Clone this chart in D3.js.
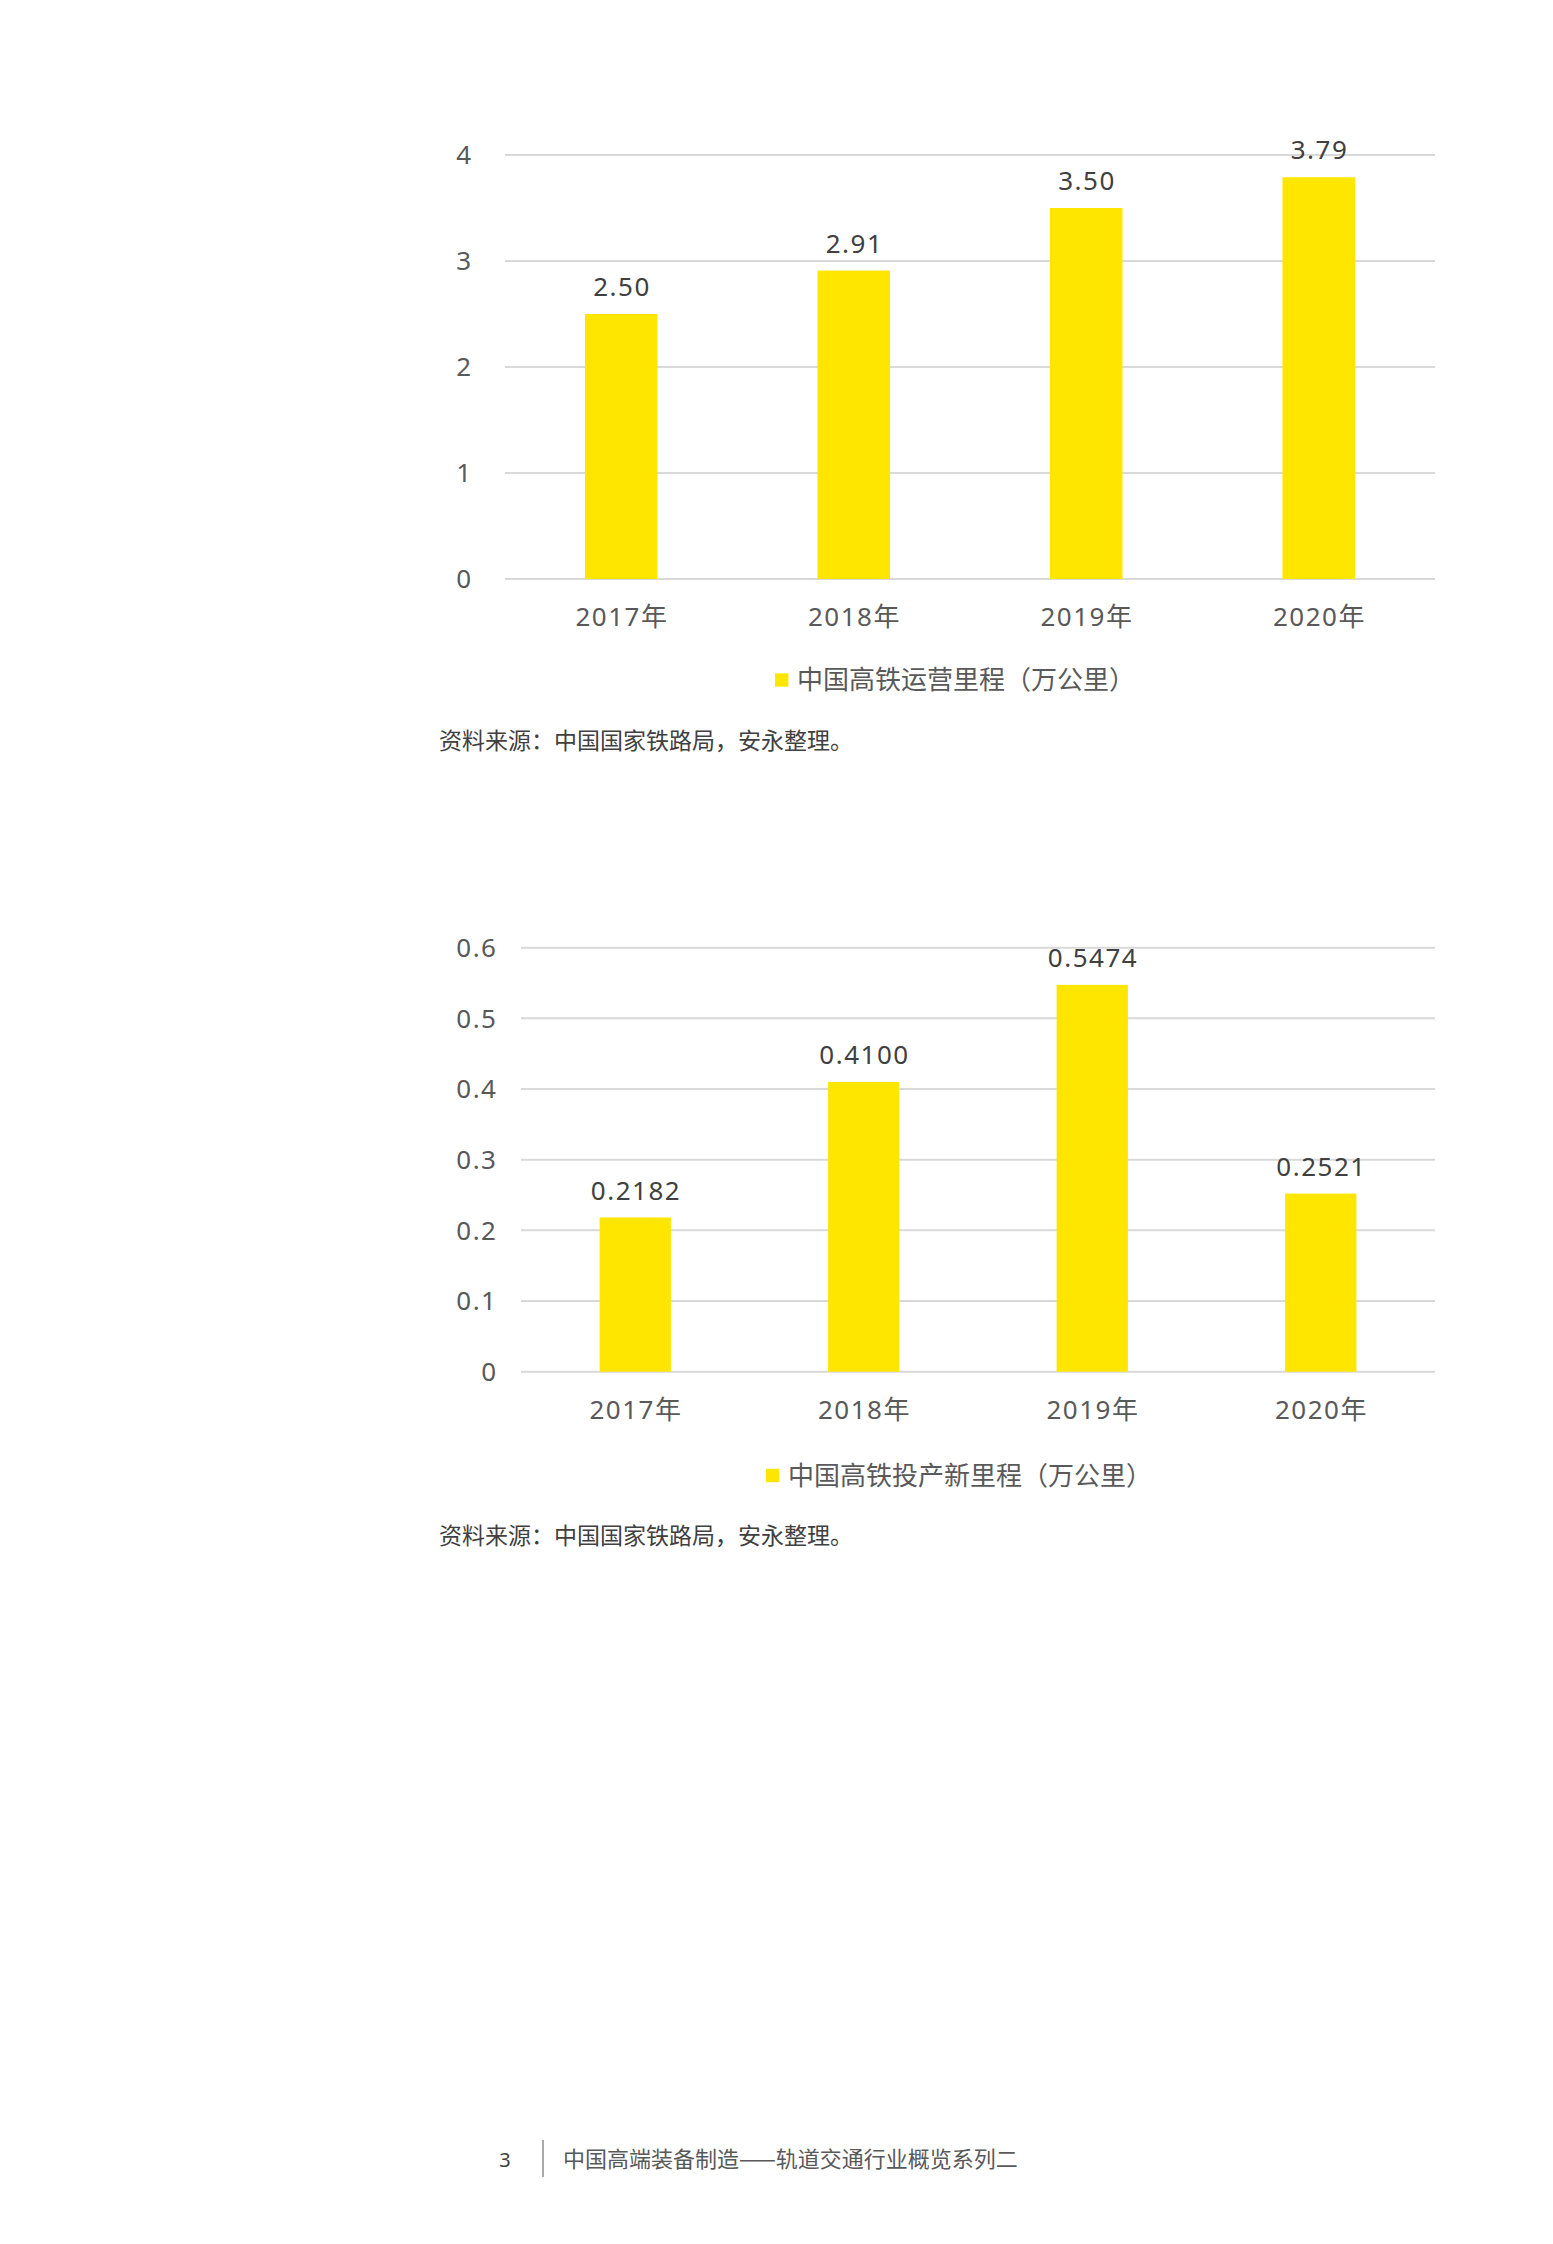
<!DOCTYPE html>
<html>
<head>
<meta charset="utf-8">
<script src="https://cdn.jsdelivr.net/npm/d3@7/dist/d3.min.js"></script>
<style>
  html, body { margin: 0; padding: 0; background: #fff; }
  svg { display: block; font-family: "Noto Sans", "Noto Sans CJK SC", sans-serif; }
</style>
</head>
<body>
<div id="page"></div>
<script>
// data
const years = ["2017年", "2018年", "2019年", "2020年"];

const operating_km = [2.50, 2.91, 3.50, 3.79];
const operating_ticks = [0, 1, 2, 3, 4];
const operating_label = "中国高铁运营里程（万公里）";

const new_km = [0.2182, 0.4100, 0.5474, 0.2521];
const new_ticks = [0, 0.1, 0.2, 0.3, 0.4, 0.5, 0.6];
const new_label = "中国高铁投产新里程（万公里）";

const source_text = "资料来源：中国国家铁路局，安永整理。";
const page_no = "3";
const footer_text = "中国高端装备制造——轨道交通行业概览系列二";

const colors = {
    bar: "#FFE600",
    grid: "#D9D9D9",
    tick: "#595959",
    value: "#404040",
    source: "#404040"
};

const W = 1553, H = 2244;
const svg = d3.select("#page").append("svg").attr("width", W).attr("height", H);

function bar_chart(opt){
    const g = svg.append("g");

    const x = d3.scaleBand().domain(years).range([opt.left, opt.right]);
    const y = d3.scaleLinear().domain([0, opt.max]).range([opt.bottom, opt.top]);
    const bar_w = x.bandwidth() * 0.312;

    // gridlines
    g.selectAll(".grid")
        .data(opt.ticks)
        .join("line")
        .attr("x1", opt.left).attr("x2", opt.right)
        .attr("y1", d => y(d)).attr("y2", d => y(d))
        .style("stroke", colors.grid)
        .style("stroke-width", 2);

    // y tick labels (trailing letter-spacing pushes end anchor left, hence +1.5)
    g.selectAll(".ytick")
        .data(opt.ticks)
        .join("text")
        .attr("x", opt.tick_x + 1.5)
        .attr("y", d => y(d))
        .attr("dy", "0.36em")
        .attr("text-anchor", "end")
        .style("font-size", "26px")
        .style("letter-spacing", "1.5px")
        .style("fill", colors.tick)
        .text(d => opt.tick_fmt(d));

    // bars
    g.selectAll(".bar")
        .data(opt.values)
        .join("rect")
        .attr("x", (d, i) => x(years[i]) + x.bandwidth()/2 - bar_w/2)
        .attr("y", d => y(d))
        .attr("width", bar_w)
        .attr("height", d => y(0) - y(d))
        .style("fill", colors.bar);

    // value labels
    g.selectAll(".val")
        .data(opt.values)
        .join("text")
        .attr("x", (d, i) => x(years[i]) + x.bandwidth()/2 + 0.75)
        .attr("y", d => y(d) - 18)
        .attr("text-anchor", "middle")
        .style("font-size", "26px")
        .style("letter-spacing", "1.5px")
        .style("fill", colors.value)
        .text(d => opt.val_fmt(d));

    // category labels
    g.selectAll(".cat")
        .data(years)
        .join("text")
        .attr("x", d => x(d) + x.bandwidth()/2 + 0.75)
        .attr("y", opt.bottom + 47)
        .attr("text-anchor", "middle")
        .style("font-size", "26px")
        .style("letter-spacing", "1.5px")
        .style("fill", colors.tick)
        .text(d => d);

    // legend, centred on opt.legend_x
    const lg = g.append("g");
    lg.append("rect")
        .attr("x", 0).attr("y", -6.7)
        .attr("width", 13.4).attr("height", 13.4)
        .style("fill", colors.bar);
    const lt = lg.append("text")
        .attr("x", 22).attr("y", 0)
        .attr("dy", "0.36em")
        .style("font-family", "'Noto Sans CJK SC', sans-serif")
        .style("font-size", "26px")
        .style("fill", colors.tick)
        .text(opt.legend);
    const lw = 22 + lt.node().getComputedTextLength();
    lg.attr("transform", `translate(${opt.legend_x - lw/2},${opt.legend_y})`);

    // source note
    g.append("text")
        .attr("x", 439).attr("y", opt.source_y)
        .style("font-family", "'Noto Sans CJK SC', sans-serif")
        .style("font-size", "23px")
        .style("fill", colors.source)
        .text(source_text);
}

bar_chart({
    values: operating_km, ticks: operating_ticks, max: 4,
    left: 505, right: 1435, top: 155, bottom: 579,
    tick_x: 471, tick_fmt: d3.format("d"), val_fmt: d3.format(".2f"),
    legend: operating_label, legend_x: 955, legend_y: 680,
    source_y: 749
});

bar_chart({
    values: new_km, ticks: new_ticks, max: 0.6,
    left: 521, right: 1435, top: 947.7, bottom: 1371.7,
    tick_x: 496, tick_fmt: d => d === 0 ? "0" : d3.format(".1f")(d), val_fmt: d3.format(".4f"),
    legend: new_label, legend_x: 959, legend_y: 1475.5,
    source_y: 1544
});

// footer
svg.append("text")
    .attr("x", 505).attr("y", 2167)
    .attr("text-anchor", "middle")
    .style("font-size", "20px")
    .style("fill", colors.value)
    .text(page_no);

svg.append("line")
    .attr("x1", 543).attr("x2", 543)
    .attr("y1", 2140).attr("y2", 2177)
    .style("stroke", "#8c8c8c")
    .style("stroke-width", 1.5);

svg.append("text")
    .attr("x", 563).attr("y", 2167)
    .style("font-family", "'Noto Sans CJK SC', sans-serif")
    .style("font-size", "22px")
    .style("fill", colors.tick)
    .text(footer_text);
</script>
</body>
</html>
